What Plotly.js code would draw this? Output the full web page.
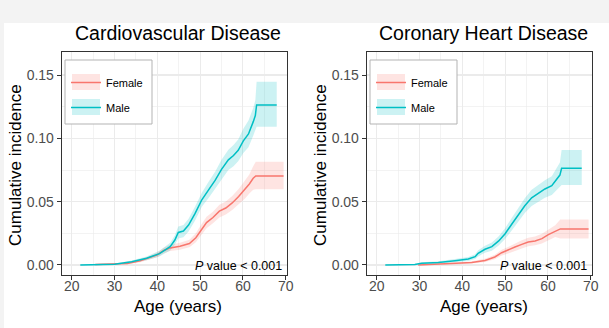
<!DOCTYPE html>
<html>
<head>
<meta charset="utf-8">
<script src="https://cdn.plot.ly/plotly-3.0.1.min.js"></script>
<style>html,body{margin:0;padding:0;background:#fff;}#chart{width:609px;height:328px;}</style>
</head>
<body>
<div id="chart"></div>
<script>
// ---- Data ----
const panelTitles = ["Cardiovascular Disease", "Coronary Heart Disease"];
const groupNames = ["Female", "Male"];
const xTickVals = [20, 30, 40, 50, 60, 70];
const yTickVals = [0, 0.05, 0.10, 0.15];
const pValueText = "<i>P</i> value &lt; 0.001";

// Cardiovascular disease - Female
const ageCvdF = [25.5, 30, 33, 36, 38, 40, 41.5, 43, 45.3, 47.5, 49, 50.2, 51.5, 53, 54.5, 56, 57.5, 59, 60.5, 61.5, 62.4, 63, 69.5];
const estCvdF = [0.0003, 0.0006, 0.0012, 0.0033, 0.0055, 0.008, 0.0115, 0.0135, 0.0148, 0.017, 0.0215, 0.0275, 0.0335, 0.0375, 0.0425, 0.045, 0.049, 0.054, 0.0595, 0.064, 0.0685, 0.0703, 0.0703];
const loCvdF  = [0, 0.0002, 0.0006, 0.0022, 0.0042, 0.0062, 0.0093, 0.011, 0.012, 0.014, 0.018, 0.0235, 0.029, 0.033, 0.0375, 0.0398, 0.0435, 0.048, 0.0525, 0.0565, 0.0595, 0.0598, 0.0598];
const hiCvdF  = [0.0008, 0.0012, 0.002, 0.0045, 0.0068, 0.0098, 0.0137, 0.016, 0.0176, 0.02, 0.025, 0.0315, 0.038, 0.042, 0.0475, 0.0502, 0.0545, 0.06, 0.0665, 0.0715, 0.078, 0.0816, 0.0816];

// Cardiovascular disease - Male
const ageCvdM = [22, 26, 30, 34, 37.5, 40.5, 43, 44.1, 44.9, 46.1, 47.3, 48.8, 50.4, 51.9, 53.5, 55.0, 56.6, 57.8, 58.9, 60.1, 61.3, 62.4, 62.9, 63.2, 67.9];
const estCvdM = [0, 0.0002, 0.0006, 0.0025, 0.0053, 0.009, 0.0145, 0.0197, 0.0257, 0.0268, 0.0315, 0.0405, 0.0515, 0.0589, 0.0668, 0.0755, 0.083, 0.0864, 0.0905, 0.098, 0.1035, 0.113, 0.118, 0.1263, 0.1263];
const loCvdM  = [0, 0, 0.0002, 0.0015, 0.0038, 0.0068, 0.0115, 0.016, 0.021, 0.022, 0.0265, 0.035, 0.046, 0.0525, 0.06, 0.068, 0.075, 0.078, 0.082, 0.0885, 0.093, 0.102, 0.106, 0.1092, 0.1092];
const hiCvdM  = [0, 0.0005, 0.0011, 0.0035, 0.0068, 0.0112, 0.0175, 0.0234, 0.0304, 0.0316, 0.0365, 0.046, 0.057, 0.0653, 0.0736, 0.083, 0.091, 0.0948, 0.099, 0.1075, 0.114, 0.124, 0.13, 0.1447, 0.1447];

// Coronary heart disease - Female
const ageChdF = [29.7, 34, 38.3, 42.2, 45.3, 47.6, 49.2, 50.7, 52.3, 53.9, 55.4, 57, 58.6, 60.1, 61.7, 62.9, 69.5];
const estChdF = [0, 0.0005, 0.001, 0.002, 0.0036, 0.0063, 0.0097, 0.0116, 0.0142, 0.0163, 0.0182, 0.019, 0.0208, 0.024, 0.0268, 0.0285, 0.0285];
const loChdF  = [0, 0.0001, 0.0004, 0.0011, 0.0023, 0.0045, 0.0074, 0.009, 0.0113, 0.0131, 0.0148, 0.0155, 0.017, 0.0198, 0.0222, 0.021, 0.021];
const hiChdF  = [0.0003, 0.0009, 0.0016, 0.0029, 0.0049, 0.0081, 0.012, 0.0142, 0.0171, 0.0195, 0.0216, 0.0225, 0.0246, 0.0282, 0.0314, 0.036, 0.036];

// Coronary heart disease - Male
const ageChdM = [22, 28.9, 30.5, 34.4, 38.3, 41.4, 43, 43.7, 45.3, 46.9, 48.5, 50, 51.5, 53.1, 54.6, 56.2, 57.8, 59.3, 60.9, 62.1, 62.8, 63.2, 67.9];
const estChdM = [0, 0.0003, 0.0013, 0.002, 0.0034, 0.0047, 0.0066, 0.0092, 0.0124, 0.0145, 0.019, 0.0247, 0.032, 0.040, 0.0468, 0.053, 0.0566, 0.060, 0.0626, 0.068, 0.071, 0.0763, 0.0763];
const loChdM  = [0, 0, 0.0005, 0.001, 0.0021, 0.0031, 0.0047, 0.0068, 0.0096, 0.0113, 0.0153, 0.0205, 0.027, 0.0345, 0.041, 0.0465, 0.0498, 0.053, 0.0553, 0.0595, 0.062, 0.0632, 0.0632];
const hiChdM  = [0, 0.0007, 0.0021, 0.003, 0.0047, 0.0063, 0.0085, 0.0116, 0.0152, 0.0177, 0.0227, 0.029, 0.037, 0.0455, 0.0526, 0.0595, 0.0634, 0.067, 0.07, 0.0765, 0.081, 0.0908, 0.0908];

// ---- Styling ----
const W = 609, H = 328;
const colF = "#F8766D", colM = "#00BFC4";
const fillF = "rgba(248,118,109,0.2)", fillM = "rgba(0,191,196,0.2)";
const font = "Liberation Sans, Arial, Helvetica, sans-serif";
const px = x => x / W;
const py = y => 1 - y / H;

const panels = [
  {xa: "x", ya: "y", legend: "legend", off: 0,
   F: [ageCvdF, estCvdF, loCvdF, hiCvdF], M: [ageCvdM, estCvdM, loCvdM, hiCvdM]},
  {xa: "x2", ya: "y2", legend: "legend2", off: 305,
   F: [ageChdF, estChdF, loChdF, hiChdF], M: [ageChdM, estChdM, loChdM, hiChdM]}
];

const traces = [];
panels.forEach(p => {
  [[p.F, fillF], [p.M, fillM]].forEach(([d, fc]) => {
    traces.push({x: d[0], y: d[2], xaxis: p.xa, yaxis: p.ya, type: "scatter", mode: "lines",
      line: {width: 0, color: fc}, showlegend: false, hoverinfo: "skip"});
    traces.push({x: d[0], y: d[3], xaxis: p.xa, yaxis: p.ya, type: "scatter", mode: "lines",
      fill: "tonexty", fillcolor: fc, line: {width: 0, color: fc}, showlegend: false, hoverinfo: "skip"});
  });
  [[p.F, colF, groupNames[0]], [p.M, colM, groupNames[1]]].forEach(([d, c, nm]) => {
    traces.push({x: d[0], y: d[1], xaxis: p.xa, yaxis: p.ya, type: "scatter", mode: "lines",
      name: nm, legend: p.legend, legendgroup: nm + p.legend, line: {width: 1.5, color: c}});
  });
});

const gridCol = "#ebebeb";
function xAxis(dom) {
  return {domain: dom, range: [17.66, 70.23], tickvals: xTickVals, ticktext: xTickVals.map(String),
    showgrid: true, gridcolor: gridCol, gridwidth: 1.1,
    minor: {dtick: 5, tick0: 20, showgrid: true, gridcolor: gridCol, gridwidth: 0.6, ticklen: 0},
    zeroline: false, showline: true, mirror: true, linecolor: "#333333", linewidth: 1,
    ticks: "outside", ticklen: 4, tickcolor: "#333333", tickwidth: 1, ticklabelstandoff: -6,
    tickfont: {family: font, size: 14, color: "#4d4d4d"}, fixedrange: true};
}
function yAxis(anchor) {
  return {domain: [py(275), py(51.7)], range: [-0.0079, 0.1684], tickvals: yTickVals,
    ticktext: yTickVals.map(v => v.toFixed(2)), anchor: anchor,
    showgrid: true, gridcolor: gridCol, gridwidth: 1.1,
    minor: {dtick: 0.025, tick0: 0, showgrid: true, gridcolor: gridCol, gridwidth: 0.6, ticklen: 0},
    zeroline: false, showline: true, mirror: true, linecolor: "#333333", linewidth: 1,
    ticks: "outside", ticklen: 4, tickcolor: "#333333", tickwidth: 1,
    tickfont: {family: font, size: 14, color: "#4d4d4d"}, fixedrange: true};
}

const shapes = [
  {type: "rect", xref: "paper", yref: "paper", x0: 0, x1: 1, y0: py(23), y1: 1,
   fillcolor: "#f3f3f3", line: {width: 0}, layer: "below"},
  {type: "rect", xref: "paper", yref: "paper", x0: 0, x1: px(4), y0: 0, y1: 1,
   fillcolor: "#f3f3f3", line: {width: 0}, layer: "below"}
];
const annotations = [];
panels.forEach((p, i) => {
  const o = p.off;
  // legend box and key fills
  shapes.push({type: "rect", xref: "paper", yref: "paper", x0: px(o + 65), x1: px(o + 152),
    y0: py(124), y1: py(60), fillcolor: "white", line: {color: "#b3b3b3", width: 1}, layer: "above"});
  shapes.push({type: "rect", xref: "paper", yref: "paper", x0: px(o + 72), x1: px(o + 100),
    y0: py(90), y1: py(74), fillcolor: fillF, line: {width: 0}, layer: "above"});
  shapes.push({type: "rect", xref: "paper", yref: "paper", x0: px(o + 72), x1: px(o + 100),
    y0: py(115), y1: py(99), fillcolor: fillM, line: {width: 0}, layer: "above"});
  annotations.push({text: panelTitles[i], xref: "paper", yref: "paper", x: px(o + 178.5), y: py(33),
    xanchor: "center", yanchor: "middle", showarrow: false, font: {family: font, size: 19.5, color: "#000"}});
  annotations.push({text: "Cumulative incidence", xref: "paper", yref: "paper", x: px(o + 15), y: py(165),
    xanchor: "center", yanchor: "middle", textangle: -90, showarrow: false, font: {family: font, size: 17, color: "#000"}});
  annotations.push({text: "Age (years)", xref: "paper", yref: "paper", x: px(o + 178.5), y: py(306),
    xanchor: "center", yanchor: "middle", showarrow: false, font: {family: font, size: 17, color: "#000"}});
  annotations.push({text: pValueText, xref: "paper", yref: "paper", x: px(o + 283.5), y: py(266),
    xanchor: "right", yanchor: "middle", showarrow: false, font: {family: font, size: 12.5, color: "#000"}});
});

function legendCfg(o) {
  return {x: px(o + 66), y: py(68), xanchor: "left", yanchor: "top", bgcolor: "rgba(0,0,0,0)",
    borderwidth: 0, font: {family: font, size: 11, color: "#000"}, tracegroupgap: 6, itemclick: false};
}

const layout = {
  width: W, height: H, margin: {l: 0, r: 0, t: 0, b: 0},
  paper_bgcolor: "white", plot_bgcolor: "white",
  xaxis: xAxis([px(61.7), px(286.7)]), yaxis: yAxis("x"),
  xaxis2: Object.assign(xAxis([px(366.7), px(591.7)]), {anchor: "y2"}), yaxis2: yAxis("x2"),
  showlegend: true,
  legend: legendCfg(0), legend2: legendCfg(305),
  shapes: shapes, annotations: annotations
};
layout.xaxis.anchor = "y";

Plotly.newPlot("chart", traces, layout, {staticPlot: true, displayModeBar: false});
</script>
</body>
</html>
